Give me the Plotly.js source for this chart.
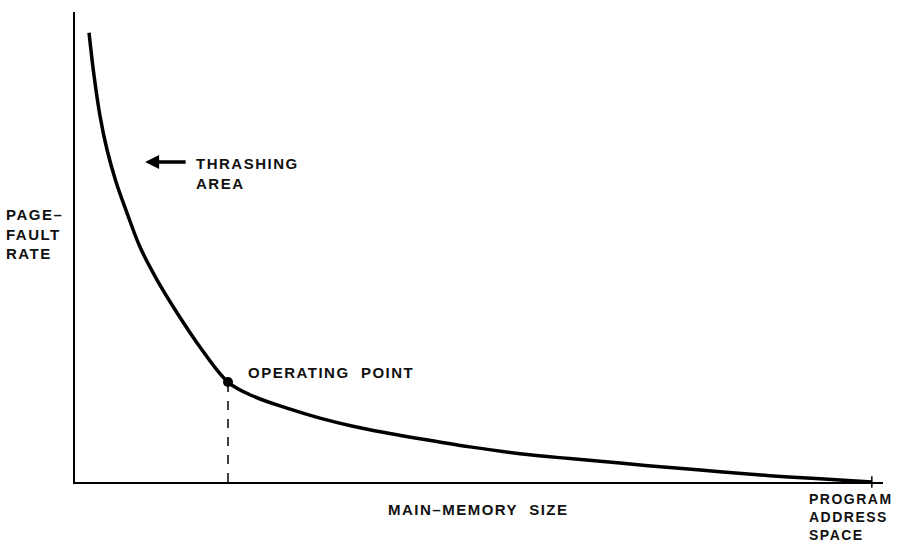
<!DOCTYPE html>
<html>
<head>
<meta charset="utf-8">
<script src="https://cdn.plot.ly/plotly-3.0.1.min.js"></script>
<style>
  body { margin: 0; background: #fff; }
  .annotation-text { letter-spacing: 1.5px; }
</style>
</head>
<body>
<div id="chart" style="width:898px;height:543px;"></div>
<script>
// page-fault rate vs main-memory size (arbitrary units, address space = 100)
const memSize = [1.76, 2.38, 3.14, 4.02, 5.14, 6.52, 8.16, 10.29, 12.8, 15.68, 19.2, 22.33, 26.6, 30.74, 34.88, 39.15, 43.29, 49.56, 55.83, 62.1, 68.4, 74.65, 80.93, 87.2, 93.5, 100];
const faultRate = [99.8, 90.4, 81.3, 73.8, 66.7, 59.8, 52.2, 44.9, 37.6, 30.0, 22.2, 19.1, 16.4, 14.2, 12.4, 10.9, 9.6, 7.8, 6.3, 5.2, 4.2, 3.2, 2.3, 1.4, 0.7, 0];

const opPoint = {x: 19.2, y: 22.2};
const addressSpace = 100;

const font = {family: "Liberation Sans, Arial, sans-serif", size: 15, color: "#111", weight: "bold"};

let curve = {
    x: memSize,
    y: faultRate,
    mode: "lines",
    type: "scatter",
    line: {color: "#000", width: 3.5, shape: "spline", smoothing: 1},
    hoverinfo: "skip"
};

let point = {
    x: [opPoint.x],
    y: [opPoint.y],
    mode: "markers",
    type: "scatter",
    marker: {color: "#000", size: 10},
    hoverinfo: "skip"
};

let layout = {
    width: 898,
    height: 543,
    margin: {l: 75, r: 15, t: 12, b: 61},
    paper_bgcolor: "#fff",
    plot_bgcolor: "#fff",
    showlegend: false,
    font: font,
    xaxis: {
        range: [0, 101.4],
        showgrid: false, zeroline: false, showticklabels: false, ticks: "",
        showline: true, linecolor: "#000", linewidth: 2
    },
    yaxis: {
        range: [0, 104.4],
        showgrid: false, zeroline: false, showticklabels: false, ticks: "",
        showline: true, linecolor: "#000", linewidth: 2
    },
    shapes: [
        // dashed drop line from the operating point
        {type: "line", xref: "x", yref: "y", x0: opPoint.x, x1: opPoint.x, y0: 0, y1: opPoint.y,
         line: {color: "#000", width: 1.5, dash: "dash"}},
        // tick at program address space
        {type: "line", xref: "x", yref: "paper", x0: addressSpace, x1: addressSpace, y0: -0.012, y1: 0.012,
         line: {color: "#000", width: 1.5}}
    ],
    annotations: [
        {xref: "paper", yref: "paper", x: -0.088, y: 0.528, xanchor: "left", yanchor: "middle",
         align: "left", showarrow: false, text: "PAGE–<br>FAULT<br>RATE"},
        {xref: "x", yref: "y", x: 14.9, y: 68.6, xanchor: "left", yanchor: "middle",
         align: "left", showarrow: false, text: "THRASHING<br>AREA"},
        {xref: "x", yref: "y", x: 8.8, y: 71.1, axref: "x", ayref: "y", ax: 14.2, ay: 71.1,
         text: " ", font: {size: 1}, showarrow: true, arrowhead: 2, arrowsize: 0.8,
         arrowwidth: 3.5, arrowcolor: "#000", standoff: 0, startstandoff: 0},
        {xref: "x", yref: "y", x: 21.5, y: 24.4, xanchor: "left", yanchor: "middle",
         align: "left", showarrow: false, text: "OPERATING  POINT"},
        {xref: "paper", yref: "paper", x: 0.499, y: -0.0585, xanchor: "center", yanchor: "middle",
         showarrow: false, text: "MAIN–MEMORY  SIZE"},
        {xref: "paper", yref: "paper", x: 0.906, y: -0.0745, xanchor: "left", yanchor: "middle",
         align: "left", showarrow: false, font: {size: 14}, text: "PROGRAM<br>ADDRESS<br>SPACE"}
    ]
};

Plotly.newPlot("chart", [curve, point], layout, {displayModeBar: false, staticPlot: true});
</script>
</body>
</html>
